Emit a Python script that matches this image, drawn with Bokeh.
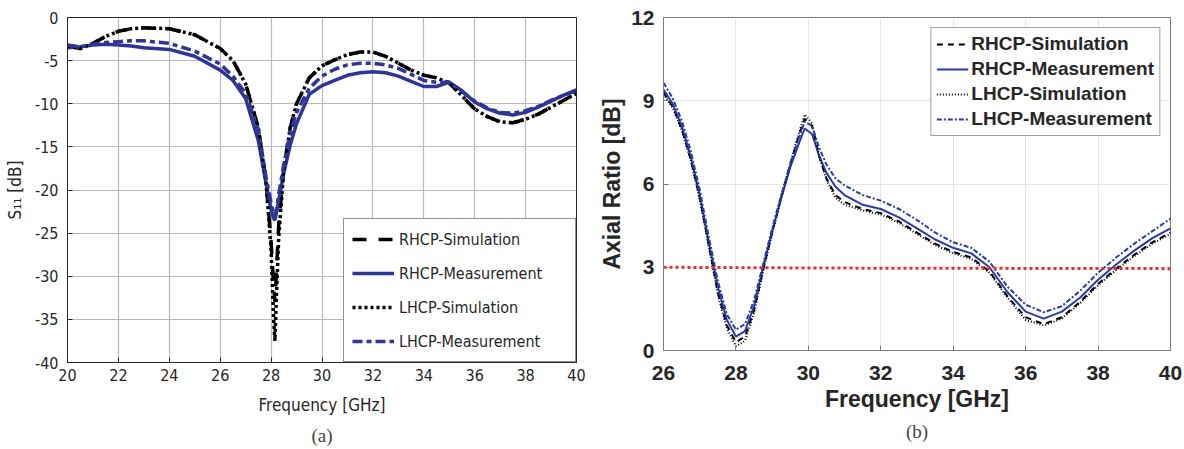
from bokeh.plotting import figure
from bokeh.layouts import row
from bokeh.models import Title, FixedTicker
from bokeh.embed import file_html
from bokeh.resources import INLINE

# ---------------- (a) S11 data ----------------
freq_a = [20, 20.5, 21, 21.5, 22, 22.5, 23, 24, 25, 26, 26.5, 27, 27.5, 27.8, 28.0, 28.1, 28.15,
          28.2, 28.3, 28.5, 28.75, 29, 29.5, 30, 30.5, 31, 31.5, 32, 32.5, 33, 33.5, 34, 34.5,
          35, 35.5, 36, 36.5, 37, 37.5, 38, 38.5, 39, 39.5, 40]
s11_lhcp_sim = [-3.3, -3.6, -3.0, -2.2, -1.6, -1.3, -1.2, -1.3, -2.0, -3.6, -5.0, -7.7, -12.8, -19.0,
                -27.0, -35.0, -37.5, -33.0, -25.5, -17.5, -12.8, -10.0, -7.0, -5.6, -4.9, -4.3, -4.0,
                -4.0, -4.5, -5.3, -6.1, -6.7, -7.0, -7.6, -9.1, -10.6, -11.5, -12.1, -12.2, -11.8,
                -11.2, -10.4, -9.6, -8.8]
s11_rhcp_sim = [-3.3, -3.6, -3.0, -2.2, -1.6, -1.3, -1.2, -1.3, -2.0, -3.6, -5.0, -7.7, -12.8, -19.0,
                -26.0, -31.0, -33.0, -30.0, -24.0, -17.5, -12.8, -10.0, -7.0, -5.6, -4.9, -4.3, -4.0,
                -4.0, -4.5, -5.3, -6.1, -6.7, -7.0, -7.6, -9.1, -10.6, -11.5, -12.1, -12.2, -11.8,
                -11.2, -10.4, -9.6, -8.8]
s11_rhcp_meas = [-3.5, -3.4, -3.2, -3.1, -3.2, -3.3, -3.5, -3.7, -4.5, -6.1, -7.3, -9.4, -14.3, -19.2,
                 -22.3, -23.3, -23.5, -22.8, -21.2, -18.0, -14.8, -12.3, -8.9, -7.9, -7.3, -6.7, -6.4,
                 -6.3, -6.4, -6.8, -7.4, -8.0, -8.0, -7.5, -8.5, -9.8, -10.6, -11.1, -11.3, -11.0,
                 -10.4, -9.7, -9.0, -8.4]
s11_lhcp_meas = [-3.2, -3.4, -3.1, -2.9, -2.8, -2.7, -2.7, -3.0, -3.9, -5.4, -6.8, -8.8, -13.0, -18.5,
                 -21.5, -22.8, -23.0, -22.5, -20.5, -17.0, -13.5, -11.0, -8.2, -6.8, -6.0, -5.5, -5.3,
                 -5.3, -5.5, -5.9, -6.6, -7.3, -7.5, -7.5, -8.6, -9.7, -10.5, -11.0, -11.1, -10.8,
                 -10.3, -9.6, -9.0, -8.5]
ticks_a_x = [20, 22, 24, 26, 28, 30, 32, 34, 36, 38, 40]
ticks_a_y = [-40, -35, -30, -25, -20, -15, -10, -5, 0]
tick_labels_a_y = ["-40", "-35", "-30", "-25", "-20", "-15", "-10", "-5", "0"]

# ---------------- (b) Axial ratio data ----------------
freq_b = [26, 26.25, 26.5, 26.75, 27, 27.25, 27.5, 27.75, 28, 28.25, 28.5, 28.75, 29, 29.25, 29.5,
          29.75, 29.9, 30.1, 30.3, 30.5, 30.75, 31, 31.5, 32, 32.5, 33, 33.5, 34, 34.5, 35, 35.5,
          36, 36.5, 37, 37.5, 38, 38.5, 39, 39.5, 40]
ar_rhcp_meas = [9.4, 8.9, 8.1, 7.0, 5.6, 3.9, 2.3, 1.1, 0.5, 0.7, 1.6, 3.0, 4.3, 5.5, 6.6, 7.5, 8.0,
                7.8, 7.0, 6.4, 5.9, 5.6, 5.25, 5.1, 4.8, 4.4, 4.0, 3.7, 3.5, 3.0, 2.1, 1.4, 1.15,
                1.4, 1.9, 2.55, 3.1, 3.6, 4.05, 4.4]
ar_lhcp_meas = [9.65, 9.1, 8.3, 7.2, 5.8, 4.1, 2.5, 1.3, 0.75, 0.95, 1.8, 3.1, 4.4, 5.6, 6.7, 7.7,
                8.25, 8.1, 7.3, 6.7, 6.2, 5.95, 5.6, 5.4, 5.1, 4.7, 4.25, 3.9, 3.7, 3.2, 2.3, 1.65,
                1.38, 1.6, 2.15, 2.8, 3.35, 3.85, 4.3, 4.75]
ar_rhcp_sim = [9.3, 8.8, 8.0, 6.9, 5.5, 3.8, 2.1, 0.9, 0.3, 0.5, 1.45, 2.9, 4.25, 5.5, 6.7, 7.8,
               8.35, 8.1, 7.0, 6.2, 5.6, 5.35, 5.1, 4.95, 4.65, 4.25, 3.85, 3.55, 3.35, 2.85, 1.95,
               1.2, 0.95, 1.2, 1.75, 2.4, 2.95, 3.45, 3.9, 4.25]
ar_lhcp_sim = [9.25, 8.75, 7.95, 6.85, 5.45, 3.75, 2.0, 0.8, 0.15, 0.35, 1.35, 2.85, 4.2, 5.5, 6.75,
               7.9, 8.5, 8.2, 7.0, 6.15, 5.5, 5.25, 5.05, 4.9, 4.6, 4.2, 3.8, 3.5, 3.3, 2.8, 1.9,
               1.1, 0.9, 1.15, 1.7, 2.35, 2.9, 3.4, 3.85, 4.2]
ref_freq = [26, 30.5, 40]
ref_ar = [3.0, 2.97, 2.95]
ticks_b_x = [26, 28, 30, 32, 34, 36, 38, 40]
ticks_b_y = [0, 3, 6, 9, 12]

BLUE_A = "#2f3596"
BLUE_B = "#2b3aa6"
FONT_A = "DejaVu Sans Condensed"
FONT_B = "Liberation Sans"

# ================= Figure (a) =================
p1 = figure(frame_width=509, frame_height=345, x_range=(20, 40), y_range=(-40, 0),
            output_backend="svg", toolbar_location=None,
            min_border_left=67, min_border_right=20, min_border_top=14, min_border_bottom=90)
p1.line(freq_a, s11_rhcp_sim, color="black", line_width=3.5, line_dash="14 12",
        legend_label="RHCP-Simulation")
p1.line(freq_a, s11_rhcp_meas, color=BLUE_A, line_width=3.5, legend_label="RHCP-Measurement")
p1.line(freq_a, s11_lhcp_sim, color="black", line_width=3.5, line_dash="3 3",
        legend_label="LHCP-Simulation")
p1.line(freq_a, s11_lhcp_meas, color=BLUE_A, line_width=3.5, line_dash="10 4 5 4",
        legend_label="LHCP-Measurement")

p1.xaxis.ticker = FixedTicker(ticks=ticks_a_x)
p1.yaxis.ticker = FixedTicker(ticks=ticks_a_y)
p1.yaxis.major_label_overrides = dict(zip(ticks_a_y, tick_labels_a_y))
p1.xaxis.axis_label = "Frequency [GHz]"
p1.yaxis.axis_label = "S\u2081\u2081 [dB]"
for ax in (p1.xaxis, p1.yaxis):
    ax.major_tick_in = 5
    ax.major_tick_out = 0
    ax.minor_tick_line_color = None
    ax.axis_line_color = "#262626"
    ax.major_tick_line_color = "#262626"
    ax.major_label_text_font = FONT_A
    ax.major_label_text_font_size = "16px"
    ax.major_label_text_color = "#262626"
    ax.axis_label_text_font = FONT_A
    ax.axis_label_text_font_size = "17px"
    ax.axis_label_text_font_style = "normal"
    ax.axis_label_text_color = "#262626"
p1.xaxis.major_label_standoff = 6
p1.xaxis.axis_label_standoff = 11
p1.yaxis.major_label_standoff = 9
p1.yaxis.axis_label_standoff = 7
p1.grid.grid_line_color = "#b9b9b9"
p1.grid.grid_line_width = 1.2
p1.outline_line_color = "#262626"
p1.outline_line_alpha = 1

lg1 = p1.legend[0]
lg1.location = "bottom_right"
lg1.margin = 0
lg1.padding = 8
lg1.spacing = 10
lg1.label_height = 24
lg1.glyph_height = 24
lg1.glyph_width = 42
lg1.label_standoff = 5
lg1.label_width = 168
lg1.label_text_font = FONT_A
lg1.label_text_font_size = "16px"
lg1.label_text_color = "#262626"
lg1.border_line_color = "#262626"
lg1.border_line_width = 1
lg1.background_fill_alpha = 1

p1.add_layout(Title(text="(a)", align="center", text_font="Liberation Serif",
                    text_font_size="19px", text_font_style="normal", standoff=10), "below")

# ================= Figure (b) =================
p2 = figure(frame_width=507, frame_height=333, x_range=(26, 40), y_range=(0, 12),
            output_backend="svg", toolbar_location=None,
            min_border_left=65, min_border_right=14, min_border_top=17, min_border_bottom=99)
p2.line(freq_b, ar_rhcp_sim, color="black", line_width=2, line_dash="6 5",
        legend_label="RHCP-Simulation")
p2.line(freq_b, ar_rhcp_meas, color=BLUE_B, line_width=2, legend_label="RHCP-Measurement")
p2.line(freq_b, ar_lhcp_sim, color="black", line_width=2, line_dash="1 2",
        legend_label="LHCP-Simulation")
p2.line(freq_b, ar_lhcp_meas, color=BLUE_B, line_width=2, line_dash="5 2 2 2",
        legend_label="LHCP-Measurement")
p2.line(ref_freq, ref_ar, color="#e53030", line_width=3, line_dash="3 3")

p2.xaxis.ticker = FixedTicker(ticks=ticks_b_x)
p2.yaxis.ticker = FixedTicker(ticks=ticks_b_y)
p2.xaxis.axis_label = "Frequency [GHz]"
p2.yaxis.axis_label = "Axial Ratio [dB]"
for ax in (p2.xaxis, p2.yaxis):
    ax.major_tick_in = 5
    ax.major_tick_out = 0
    ax.minor_tick_line_color = None
    ax.axis_line_color = "#7a7a7a"
    ax.major_tick_line_color = "#7a7a7a"
    ax.major_label_text_font = FONT_B
    ax.major_label_text_font_size = "21px"
    ax.major_label_text_font_style = "bold"
    ax.major_label_text_color = "#262626"
    ax.axis_label_text_font = FONT_B
    ax.axis_label_text_font_size = "23px"
    ax.axis_label_text_font_style = "bold"
    ax.axis_label_text_color = "#262626"
p2.xaxis.major_label_standoff = 15
p2.xaxis.axis_label_standoff = 3
p2.yaxis.major_label_standoff = 9
p2.yaxis.axis_label_standoff = 3
p2.grid.grid_line_color = "#e6e6e6"
p2.grid.grid_line_width = 1
p2.outline_line_color = "#7a7a7a"
p2.outline_line_alpha = 1

lg2 = p2.legend[0]
lg2.location = "top_right"
lg2.margin = 10
lg2.padding = 5
lg2.spacing = 3
lg2.label_height = 20
lg2.glyph_height = 20
lg2.glyph_width = 32
lg2.label_standoff = 3
lg2.label_text_font = FONT_B
lg2.label_text_font_size = "19px"
lg2.label_text_font_style = "bold"
lg2.label_text_color = "#262626"
lg2.border_line_color = "#404040"
lg2.border_line_width = 1.5
lg2.background_fill_alpha = 1

p2.add_layout(Title(text="(b)", align="center", text_font="Liberation Serif",
                    text_font_size="19px", text_font_style="normal", standoff=9), "below")

layout = row(p1, p2)
open("out.html", "w").write(file_html(layout, INLINE))
